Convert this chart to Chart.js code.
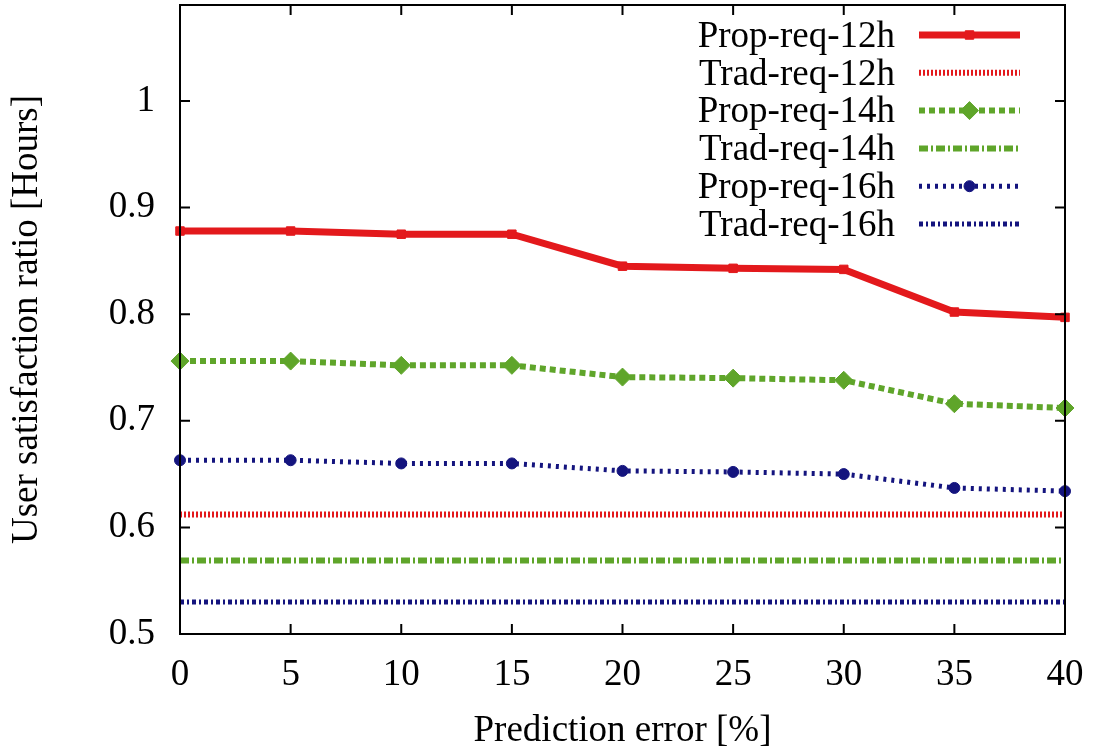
<!DOCTYPE html>
<html>
<head>
<meta charset="utf-8">
<script src="https://cdn.jsdelivr.net/npm/chart.js@4/dist/chart.umd.min.js"></script>
<style>
  html, body { margin: 0; padding: 0; background: #fff; }
  #wrap { width: 1098px; height: 749px; }
</style>
</head>
<body>
<div id="wrap"><canvas id="chart" width="1098" height="749"></canvas></div>
<script>
const xValues = [0, 5, 10, 15, 20, 25, 30, 35, 40];
const yTickValues = [0.5, 0.6, 0.7, 0.8, 0.9, 1.0];

const propReq12 = [0.878, 0.878, 0.875, 0.875, 0.845, 0.843, 0.842, 0.802, 0.797];
const tradReq12 = [0.612, 0.612, 0.612, 0.612, 0.612, 0.612, 0.612, 0.612, 0.612];
const propReq14 = [0.756, 0.756, 0.752, 0.752, 0.741, 0.740, 0.738, 0.716, 0.712];
const tradReq14 = [0.569, 0.569, 0.569, 0.569, 0.569, 0.569, 0.569, 0.569, 0.569];
const propReq16 = [0.663, 0.663, 0.660, 0.660, 0.653, 0.652, 0.650, 0.637, 0.634];
const tradReq16 = [0.530, 0.530, 0.530, 0.530, 0.530, 0.530, 0.530, 0.530, 0.530];

const RED = '#e3191c';
const GREEN = '#5fa52a';
const NAVY = '#14147e';
const FONT = '"Liberation Serif", "Times New Roman", serif';

const toPoints = arr => arr.map((v, i) => ({ x: xValues[i], y: v }));

function series(label, data, color, width, dash, style, radius) {
  return {
    label,
    data: toPoints(data),
    borderColor: color,
    backgroundColor: color,
    borderWidth: width,
    borderDash: dash,
    borderCapStyle: 'butt',
    pointStyle: style,
    pointRadius: radius,
    pointBorderWidth: 1,
    pointHoverRadius: radius,
    tension: 0,
    clip: false
  };
}

const datasets = [
  series('Prop-req-12h', propReq12, RED, 7, [], 'rect', 6),
  series('Trad-req-12h', tradReq12, RED, 6, [2, 2], 'circle', 0),
  series('Prop-req-14h', propReq14, GREEN, 6, [6, 4], 'rectRot', 9),
  series('Trad-req-14h', tradReq14, GREEN, 6, [9, 3, 2, 3], 'circle', 0),
  series('Prop-req-16h', propReq16, NAVY, 5, [3, 5], 'circle', 5.5),
  series('Trad-req-16h', tradReq16, NAVY, 5, [4, 3, 2, 3], 'circle', 0)
];

// frame on all four sides and inward ticks, mirrored like the original
const framePlugin = {
  id: 'frame',
  afterDatasetsDraw(chart) {
    const { ctx, chartArea: a, scales } = chart;
    ctx.save();
    ctx.strokeStyle = '#000';
    ctx.lineWidth = 2;
    ctx.strokeRect(a.left, a.top, a.right - a.left, a.bottom - a.top);
    const len = 10;
    ctx.beginPath();
    xValues.forEach(v => {
      const px = scales.x.getPixelForValue(v);
      ctx.moveTo(px, a.bottom); ctx.lineTo(px, a.bottom - len);
      ctx.moveTo(px, a.top); ctx.lineTo(px, a.top + len);
    });
    yTickValues.forEach(v => {
      const py = scales.y.getPixelForValue(v);
      ctx.moveTo(a.left, py); ctx.lineTo(a.left + len, py);
      ctx.moveTo(a.right, py); ctx.lineTo(a.right - len, py);
    });
    ctx.stroke();
    ctx.restore();
  }
};

// gnuplot-style key: text on the left, line sample on the right
const keyPlugin = {
  id: 'key',
  afterDraw(chart) {
    const { ctx } = chart;
    const textRight = 895, x0 = 919, x1 = 1020, firstY = 35, step = 37.8;
    ctx.save();
    chart.data.datasets.forEach((ds, i) => {
      const y = firstY + i * step;
      ctx.fillStyle = '#000';
      ctx.font = '37px ' + FONT;
      ctx.textAlign = 'right';
      ctx.textBaseline = 'middle';
      ctx.fillText(ds.label, textRight, y + 2);
      ctx.strokeStyle = ds.borderColor;
      ctx.lineWidth = ds.borderWidth;
      ctx.lineCap = 'butt';
      ctx.setLineDash(ds.borderDash);
      ctx.beginPath();
      ctx.moveTo(x0, y);
      ctx.lineTo(x1, y);
      ctx.stroke();
      ctx.setLineDash([]);
      if (ds.pointRadius > 0 && Chart.helpers && Chart.helpers.drawPoint) {
        ctx.fillStyle = ds.backgroundColor;
        ctx.lineWidth = 1;
        Chart.helpers.drawPoint(ctx, { pointStyle: ds.pointStyle, radius: ds.pointRadius, borderWidth: 1, rotation: 0 }, (x0 + x1) / 2, y);
      }
    });
    ctx.restore();
  }
};

new Chart(document.getElementById('chart'), {
  type: 'line',
  data: { datasets },
  plugins: [framePlugin, keyPlugin],
  options: {
    responsive: false,
    animation: false,
    events: [],
    layout: { autoPadding: false, padding: { top: 5, right: 33, left: 0, bottom: 0 } },
    plugins: { legend: { display: false }, tooltip: { enabled: false } },
    scales: {
      x: {
        type: 'linear',
        min: 0,
        max: 40,
        afterBuildTicks: s => { s.ticks = xValues.map(v => ({ value: v })); },
        afterFit: s => { s.height = 115; s.paddingLeft = 0; s.paddingRight = 0; },
        grid: { drawOnChartArea: false, drawTicks: false },
        border: { display: true, color: '#000', width: 2 },
        ticks: { color: '#000', font: { family: FONT, size: 37 }, padding: 19, maxRotation: 0 },
        title: {
          display: true,
          text: 'Prediction error [%]',
          color: '#000',
          font: { family: FONT, size: 37, lineHeight: 0.9 },
          padding: { top: 0, bottom: 1 }
        }
      },
      y: {
        type: 'linear',
        min: 0.5,
        max: 1.09,
        afterBuildTicks: s => { s.ticks = yTickValues.map(v => ({ value: v })); },
        afterFit: s => { s.width = 180; s.paddingTop = 0; s.paddingBottom = 0; },
        grid: { drawOnChartArea: false, drawTicks: false },
        border: { display: true, color: '#000', width: 2 },
        ticks: {
          color: '#000',
          font: { family: FONT, size: 37 },
          padding: 25,
          callback: v => String(Number(v.toFixed(1)))
        },
        title: {
          display: true,
          text: 'User satisfaction ratio [Hours]',
          color: '#000',
          font: { family: FONT, size: 37 },
          padding: { top: 5, bottom: 0 }
        }
      }
    }
  }
});
</script>
</body>
</html>
